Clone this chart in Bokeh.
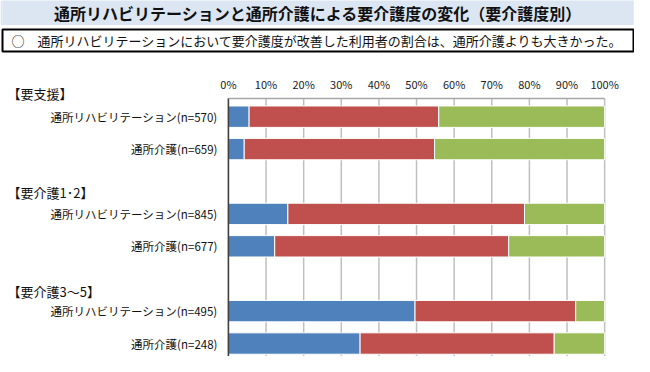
from bokeh.plotting import figure
from bokeh.layouts import column
from bokeh.models import (ColumnDataSource, Range1d, FixedTicker, PrintfTickFormatter,
                          LinearAxis)
from bokeh.core.properties import value
from bokeh.embed import file_html
from bokeh.resources import INLINE

FONT = "Noto Sans CJK JP"

title_text = "通所リハビリテーションと通所介護による要介護度の変化（要介護度別）"
note_text = "○　通所リハビリテーションにおいて要介護度が改善した利用者の割合は、通所介護よりも大きかった。"

groups = ["【要支援】", "【要介護1･2】", "【要介護3～5】"]
row_labels = [
    "通所リハビリテーション(n=570)", "通所介護(n=659)",
    "通所リハビリテーション(n=845)", "通所介護(n=677)",
    "通所リハビリテーション(n=495)", "通所介護(n=248)",
]
row_group = [0, 0, 1, 1, 2, 2]
improved = [5.5, 4.2, 15.8, 12.3, 49.6, 35.0]
maintained = [50.4, 50.6, 62.9, 62.2, 42.7, 51.6]
worsened = [44.1, 45.2, 21.3, 25.5, 7.7, 13.4]
tick_values = [0, 10, 20, 30, 40, 50, 60, 70, 80, 90, 100]

colors = ["#4F81BD", "#C0504D", "#9BBB59"]
W = 634

# ---- title band ----
t = figure(width=W, height=25, x_range=Range1d(0, 1), y_range=Range1d(0, 1),
           output_backend="svg", toolbar_location=None,
           x_axis_location=None, y_axis_location=None,
           min_border=0, outline_line_color=None,
           background_fill_color="#DCE6F2", border_fill_color="#DCE6F2")
t.grid.visible = False
t.text(x=[0.5], y=[0.5], text=[title_text], text_align="center", text_baseline="middle",
       text_font=value(FONT), text_font_size="16px", text_font_style="bold", text_color="#111111")

# ---- note box ----
b = figure(width=W, height=28, x_range=Range1d(0, 1), y_range=Range1d(0, 1),
           output_backend="svg", toolbar_location=None,
           x_axis_location=None, y_axis_location=None,
           min_border_left=2, min_border_right=1, min_border_top=4, min_border_bottom=2,
           outline_line_color="black", outline_line_width=2,
           background_fill_color="white", border_fill_color="white")
b.grid.visible = False
b.text(x=[0], y=[0.5], text=[note_text], x_offset=9, text_align="left", text_baseline="middle",
       text_font=value(FONT), text_font_size="13px", text_color="#111111")

# ---- chart ----
AXIS_Y = -0.57
Y_BOTTOM = 7.4
ys = [g * 3 + (i % 2) for i, g in enumerate(row_group)]
src = ColumnDataSource(dict(y=ys, improved=improved, maintained=maintained,
                            worsened=worsened, label=row_labels))

p = figure(width=W, height=303, x_range=Range1d(-60.05, 107.67), y_range=Range1d(Y_BOTTOM, -1.95),
           output_backend="svg", toolbar_location=None,
           x_axis_location=None, y_axis_location=None,
           min_border=0, outline_line_color=None, border_fill_color="white")
p.grid.visible = False

# grid lines below the axis line
p.segment(x0=tick_values, x1=tick_values, y0=[AXIS_Y] * len(tick_values),
          y1=[Y_BOTTOM] * len(tick_values), line_color="#BFBFBF", line_width=1.5)

p.hbar_stack(["improved", "maintained", "worsened"], y="y", height=0.66,
             color=colors, line_color="white", line_width=1, source=src)

# left category axis line
p.segment(x0=[tick_values[0]], x1=[tick_values[0]], y0=[AXIS_Y], y1=[Y_BOTTOM],
          line_color="#404040", line_width=1.5)

ax = LinearAxis(fixed_location=AXIS_Y, ticker=FixedTicker(ticks=tick_values),
                formatter=PrintfTickFormatter(format="%d%%"), bounds=(0, 100))
ax.axis_line_color = "#A6A6A6"
ax.axis_line_width = 1.5
ax.major_tick_out = 0
ax.major_tick_in = 0
ax.minor_tick_line_color = None
ax.major_label_standoff = 6
ax.major_label_text_font = FONT
ax.major_label_text_font_size = "11px"
ax.major_label_text_color = "#222222"
p.add_layout(ax, "above")

p.text(x=0, y="y", text="label", source=src, x_offset=-11, text_align="right",
       text_baseline="middle", text_font=value(FONT), text_font_size="11.5px", text_color="#111111")

group_y = [gi * 3 - 0.72 + 0.05 * gi for gi in range(len(groups))]
p.text(x=[-60.05] * len(groups), y=group_y, text=groups, x_offset=5, text_align="left",
       text_baseline="middle", text_font=value(FONT), text_font_size="13px", text_color="#111111")

layout = column(t, b, p, spacing=0)
open("out.html", "w").write(file_html(layout, INLINE))
